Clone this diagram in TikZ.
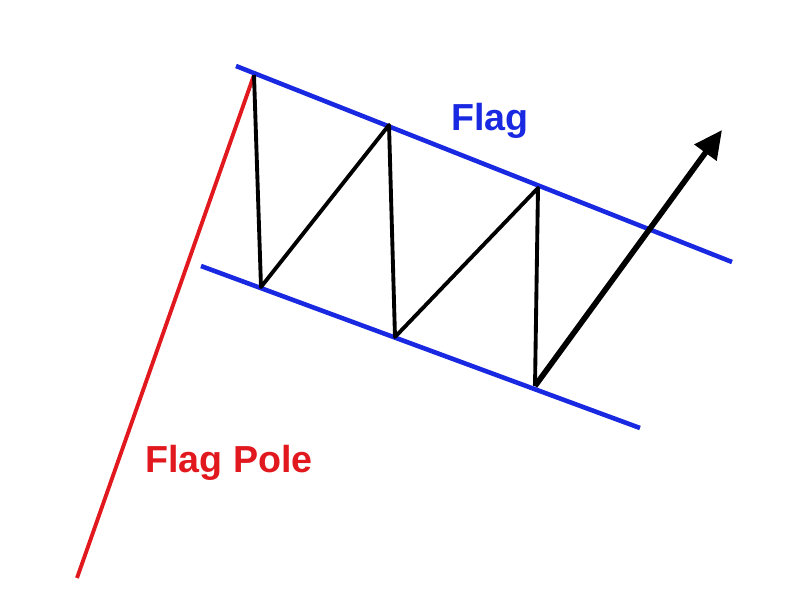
\documentclass[tikz,border=0pt]{standalone}
\usepackage{fontspec}
\setmainfont{Liberation Sans}
\usetikzlibrary{arrows.meta}
\definecolor{flagblue}{RGB}{25,40,225}
\definecolor{polered}{RGB}{225,25,30}

\begin{document}
\begin{tikzpicture}[
        x=0.01cm, y=-0.01cm,
        pole/.style={draw=polered, line width=1.1pt},
        bound/.style={draw=flagblue, line width=1.3pt},
        swing/.style={draw=black, line width=1.1pt, line join=round},
        breakout/.style={draw=black, line width=1.6pt, -{Triangle[length=8pt,width=7.5pt]}},
        label/.style={font=\bfseries\fontsize{10.7}{12}\selectfont}
    ]
        \useasboundingbox (0,0) rectangle (800,600);

        % flag pole
        \coordinate (base) at (77,578);
        \coordinate (top) at (254,75);
        \draw[pole] (base) -- (top);

        % channel lines
        \coordinate (upA) at (236,66);
        \coordinate (upB) at (732,262);
        \coordinate (loA) at (201,266);
        \coordinate (loB) at (640,428);
        \draw[bound] (upA) -- (upB);
        \draw[bound] (loA) -- (loB);

        % zigzag inside the flag
        \coordinate (l1) at (261,287);
        \coordinate (h1) at (389,125);
        \coordinate (l2) at (395,337);
        \coordinate (h2) at (538,188);
        \coordinate (l3) at (535,386);
        \coordinate (tip) at (722,130);
        \draw[swing] (top) -- (l1) -- (h1) -- (l2) -- (h2) -- (l3);
        \draw[breakout] (l3) -- (tip);

        \node[label, text=flagblue] (flag) at (490,121) {Flag};
        \node[label, text=polered] (polelabel) at (229,463) {Flag Pole};
    \end{tikzpicture}
\end{document}
